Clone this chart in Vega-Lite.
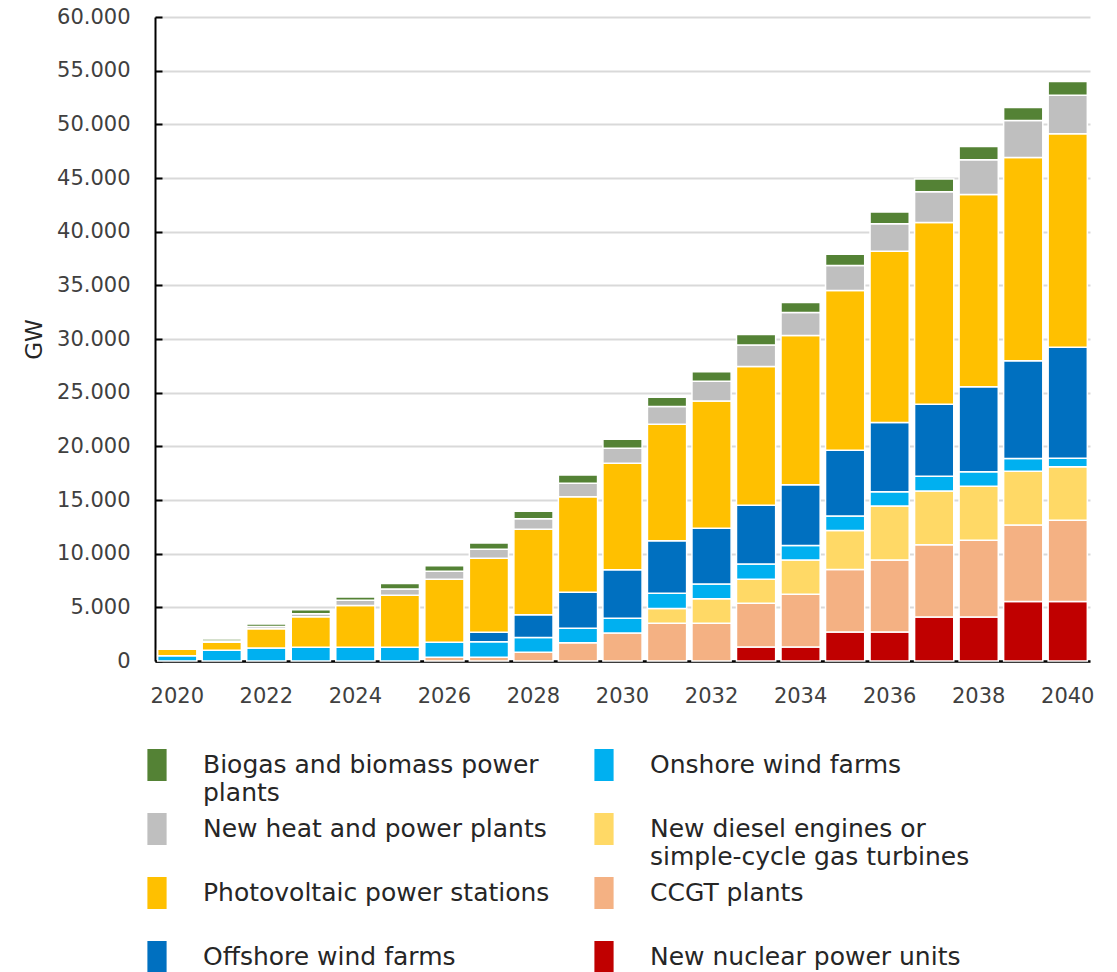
{
  "$schema": "https://vega.github.io/schema/vega-lite/v6.json",
  "autosize": {"type": "none"},
  "width": 935,
  "height": 644,
  "padding": {"left": 155, "top": 17, "right": 27, "bottom": 311},
  "background": "white",
  "config": {
    "view": {"stroke": null},
    "font": "DejaVu Sans",
    "style": {"guide-label": {"lineHeight": 28}}
  },
  "data": {
    "values": [
      {"year": 2020, "source": "Onshore wind farms", "value": 500},
      {"year": 2020, "source": "Photovoltaic power stations", "value": 600},
      {"year": 2021, "source": "Onshore wind farms", "value": 1000},
      {"year": 2021, "source": "Photovoltaic power stations", "value": 740},
      {"year": 2021, "source": "New heat and power plants", "value": 120},
      {"year": 2021, "source": "Biogas and biomass power plants", "value": 180},
      {"year": 2022, "source": "Onshore wind farms", "value": 1200},
      {"year": 2022, "source": "Photovoltaic power stations", "value": 1810},
      {"year": 2022, "source": "New heat and power plants", "value": 200},
      {"year": 2022, "source": "Biogas and biomass power plants", "value": 240},
      {"year": 2023, "source": "Onshore wind farms", "value": 1270},
      {"year": 2023, "source": "Photovoltaic power stations", "value": 2860},
      {"year": 2023, "source": "New heat and power plants", "value": 280},
      {"year": 2023, "source": "Biogas and biomass power plants", "value": 370},
      {"year": 2024, "source": "Onshore wind farms", "value": 1270},
      {"year": 2024, "source": "Photovoltaic power stations", "value": 3890},
      {"year": 2024, "source": "New heat and power plants", "value": 490},
      {"year": 2024, "source": "Biogas and biomass power plants", "value": 310},
      {"year": 2025, "source": "Onshore wind farms", "value": 1270},
      {"year": 2025, "source": "Photovoltaic power stations", "value": 4850},
      {"year": 2025, "source": "New heat and power plants", "value": 590},
      {"year": 2025, "source": "Biogas and biomass power plants", "value": 500},
      {"year": 2026, "source": "CCGT plants", "value": 340},
      {"year": 2026, "source": "Onshore wind farms", "value": 1400},
      {"year": 2026, "source": "Photovoltaic power stations", "value": 5870},
      {"year": 2026, "source": "New heat and power plants", "value": 750},
      {"year": 2026, "source": "Biogas and biomass power plants", "value": 520},
      {"year": 2027, "source": "CCGT plants", "value": 340},
      {"year": 2027, "source": "Onshore wind farms", "value": 1460},
      {"year": 2027, "source": "Offshore wind farms", "value": 870},
      {"year": 2027, "source": "Photovoltaic power stations", "value": 6900},
      {"year": 2027, "source": "New heat and power plants", "value": 830},
      {"year": 2027, "source": "Biogas and biomass power plants", "value": 600},
      {"year": 2028, "source": "CCGT plants", "value": 810},
      {"year": 2028, "source": "Onshore wind farms", "value": 1390},
      {"year": 2028, "source": "Offshore wind farms", "value": 2120},
      {"year": 2028, "source": "Photovoltaic power stations", "value": 7950},
      {"year": 2028, "source": "New heat and power plants", "value": 990},
      {"year": 2028, "source": "Biogas and biomass power plants", "value": 690},
      {"year": 2029, "source": "CCGT plants", "value": 1710},
      {"year": 2029, "source": "Onshore wind farms", "value": 1330},
      {"year": 2029, "source": "Offshore wind farms", "value": 3360},
      {"year": 2029, "source": "Photovoltaic power stations", "value": 8910},
      {"year": 2029, "source": "New heat and power plants", "value": 1240},
      {"year": 2029, "source": "Biogas and biomass power plants", "value": 780},
      {"year": 2030, "source": "CCGT plants", "value": 2610},
      {"year": 2030, "source": "Onshore wind farms", "value": 1370},
      {"year": 2030, "source": "Offshore wind farms", "value": 4530},
      {"year": 2030, "source": "Photovoltaic power stations", "value": 9910},
      {"year": 2030, "source": "New heat and power plants", "value": 1400},
      {"year": 2030, "source": "Biogas and biomass power plants", "value": 830},
      {"year": 2031, "source": "CCGT plants", "value": 3510},
      {"year": 2031, "source": "New diesel engines or simple-cycle gas turbines", "value": 1370},
      {"year": 2031, "source": "Onshore wind farms", "value": 1430},
      {"year": 2031, "source": "Offshore wind farms", "value": 4900},
      {"year": 2031, "source": "Photovoltaic power stations", "value": 10840},
      {"year": 2031, "source": "New heat and power plants", "value": 1650},
      {"year": 2031, "source": "Biogas and biomass power plants", "value": 870},
      {"year": 2032, "source": "CCGT plants", "value": 3510},
      {"year": 2032, "source": "New diesel engines or simple-cycle gas turbines", "value": 2300},
      {"year": 2032, "source": "Onshore wind farms", "value": 1360},
      {"year": 2032, "source": "Offshore wind farms", "value": 5190},
      {"year": 2032, "source": "Photovoltaic power stations", "value": 11870},
      {"year": 2032, "source": "New heat and power plants", "value": 1830},
      {"year": 2032, "source": "Biogas and biomass power plants", "value": 900},
      {"year": 2033, "source": "New nuclear power units", "value": 1300},
      {"year": 2033, "source": "CCGT plants", "value": 4070},
      {"year": 2033, "source": "New diesel engines or simple-cycle gas turbines", "value": 2250},
      {"year": 2033, "source": "Onshore wind farms", "value": 1410},
      {"year": 2033, "source": "Offshore wind farms", "value": 5470},
      {"year": 2033, "source": "Photovoltaic power stations", "value": 12930},
      {"year": 2033, "source": "New heat and power plants", "value": 2020},
      {"year": 2033, "source": "Biogas and biomass power plants", "value": 970},
      {"year": 2034, "source": "New nuclear power units", "value": 1300},
      {"year": 2034, "source": "CCGT plants", "value": 4910},
      {"year": 2034, "source": "New diesel engines or simple-cycle gas turbines", "value": 3190},
      {"year": 2034, "source": "Onshore wind farms", "value": 1360},
      {"year": 2034, "source": "Offshore wind farms", "value": 5650},
      {"year": 2034, "source": "Photovoltaic power stations", "value": 13920},
      {"year": 2034, "source": "New heat and power plants", "value": 2140},
      {"year": 2034, "source": "Biogas and biomass power plants", "value": 940},
      {"year": 2035, "source": "New nuclear power units", "value": 2700},
      {"year": 2035, "source": "CCGT plants", "value": 5820},
      {"year": 2035, "source": "New diesel engines or simple-cycle gas turbines", "value": 3650},
      {"year": 2035, "source": "Onshore wind farms", "value": 1330},
      {"year": 2035, "source": "Offshore wind farms", "value": 6130},
      {"year": 2035, "source": "Photovoltaic power stations", "value": 14900},
      {"year": 2035, "source": "New heat and power plants", "value": 2320},
      {"year": 2035, "source": "Biogas and biomass power plants", "value": 1050},
      {"year": 2036, "source": "New nuclear power units", "value": 2700},
      {"year": 2036, "source": "CCGT plants", "value": 6700},
      {"year": 2036, "source": "New diesel engines or simple-cycle gas turbines", "value": 5040},
      {"year": 2036, "source": "Onshore wind farms", "value": 1340},
      {"year": 2036, "source": "Offshore wind farms", "value": 6450},
      {"year": 2036, "source": "Photovoltaic power stations", "value": 15950},
      {"year": 2036, "source": "New heat and power plants", "value": 2560},
      {"year": 2036, "source": "Biogas and biomass power plants", "value": 1090},
      {"year": 2037, "source": "New nuclear power units", "value": 4100},
      {"year": 2037, "source": "CCGT plants", "value": 6730},
      {"year": 2037, "source": "New diesel engines or simple-cycle gas turbines", "value": 5020},
      {"year": 2037, "source": "Onshore wind farms", "value": 1360},
      {"year": 2037, "source": "Offshore wind farms", "value": 6700},
      {"year": 2037, "source": "Photovoltaic power stations", "value": 16940},
      {"year": 2037, "source": "New heat and power plants", "value": 2870},
      {"year": 2037, "source": "Biogas and biomass power plants", "value": 1190},
      {"year": 2038, "source": "New nuclear power units", "value": 4100},
      {"year": 2038, "source": "CCGT plants", "value": 7150},
      {"year": 2038, "source": "New diesel engines or simple-cycle gas turbines", "value": 5020},
      {"year": 2038, "source": "Onshore wind farms", "value": 1370},
      {"year": 2038, "source": "Offshore wind farms", "value": 7920},
      {"year": 2038, "source": "Photovoltaic power stations", "value": 17910},
      {"year": 2038, "source": "New heat and power plants", "value": 3230},
      {"year": 2038, "source": "Biogas and biomass power plants", "value": 1230},
      {"year": 2039, "source": "New nuclear power units", "value": 5550},
      {"year": 2039, "source": "CCGT plants", "value": 7110},
      {"year": 2039, "source": "New diesel engines or simple-cycle gas turbines", "value": 5010},
      {"year": 2039, "source": "Onshore wind farms", "value": 1190},
      {"year": 2039, "source": "Offshore wind farms", "value": 9120},
      {"year": 2039, "source": "Photovoltaic power stations", "value": 18930},
      {"year": 2039, "source": "New heat and power plants", "value": 3440},
      {"year": 2039, "source": "Biogas and biomass power plants", "value": 1220},
      {"year": 2040, "source": "New nuclear power units", "value": 5550},
      {"year": 2040, "source": "CCGT plants", "value": 7560},
      {"year": 2040, "source": "New diesel engines or simple-cycle gas turbines", "value": 4980},
      {"year": 2040, "source": "Onshore wind farms", "value": 810},
      {"year": 2040, "source": "Offshore wind farms", "value": 10340},
      {"year": 2040, "source": "Photovoltaic power stations", "value": 19880},
      {"year": 2040, "source": "New heat and power plants", "value": 3580},
      {"year": 2040, "source": "Biogas and biomass power plants", "value": 1290}
    ]
  },
  "transform": [
    {"calculate": "indexof(['New nuclear power units', 'CCGT plants', 'New diesel engines or simple-cycle gas turbines', 'Onshore wind farms', 'Offshore wind farms', 'Photovoltaic power stations', 'New heat and power plants', 'Biogas and biomass power plants'], datum.source)", "as": "stack_rank"}
  ],
  "mark": {"type": "bar", "stroke": "white", "strokeWidth": 1.5},
  "encoding": {
    "x": {
      "field": "year",
      "type": "ordinal",
      "scale": {"paddingInner": 0.12, "paddingOuter": 0.06},
      "axis": {
        "title": null,
        "labelAngle": 0,
        "ticks": false,
        "domainColor": "#000000",
        "domainWidth": 2.5,
        "labelFontSize": 21,
        "labelColor": "#404040",
        "labelPadding": 24,
        "labelExpr": "datum.value % 2 == 0 ? datum.label : ''"
      }
    },
    "y": {
      "field": "value",
      "type": "quantitative",
      "stack": "zero",
      "scale": {"domain": [0, 60000], "nice": false},
      "axis": {
        "title": "GW",
        "titleFontSize": 23,
        "titleFontWeight": "normal",
        "titleColor": "#262626",
        "titlePadding": 10,
        "values": [0, 5000, 10000, 15000, 20000, 25000, 30000, 35000, 40000, 45000, 50000, 55000, 60000],
        "labelExpr": "replace(format(datum.value, ','), ',', '.')",
        "labelFontSize": 21,
        "labelColor": "#404040",
        "labelPadding": 32,
        "tickSize": -7,
        "tickColor": "#000000",
        "tickWidth": 2,
        "domainColor": "#000000",
        "domainWidth": 2,
        "gridColor": "#D9D9D9",
        "gridWidth": 2
      }
    },
    "order": {"field": "stack_rank", "type": "quantitative", "sort": "ascending"},
    "color": {
      "field": "source",
      "type": "nominal",
      "sort": [
        "Biogas and biomass power plants",
        "New heat and power plants",
        "Photovoltaic power stations",
        "Offshore wind farms",
        "Onshore wind farms",
        "New diesel engines or simple-cycle gas turbines",
        "CCGT plants",
        "New nuclear power units"
      ],
      "scale": {
        "range": ["#548235", "#BFBFBF", "#FFC000", "#0070C0", "#00B0F0", "#FFD966", "#F4B183", "#C00000"]
      },
      "legend": {
        "title": null,
        "orient": "none",
        "legendX": -14,
        "legendY": 732,
        "columns": 2,
        "gridAlign": "all",
        "columnPadding": 38,
        "rowPadding": 7,
        "padding": 0,
        "symbolType": "M-0.6,-1L0.6,-1L0.6,1L-0.6,1Z",
        "symbolSize": 1024,
        "symbolStrokeWidth": 0,
        "symbolOpacity": 1,
        "labelFontSize": 25,
        "labelColor": "#262626",
        "labelLimit": 600,
        "labelOffset": 30,
        "labelBaseline": "middle",
        "labelExpr": "datum.label == 'Biogas and biomass power plants' ? ['Biogas and biomass power', 'plants'] : datum.label == 'New diesel engines or simple-cycle gas turbines' ? ['New diesel engines or', 'simple-cycle gas turbines'] : [datum.label, '']"
      }
    }
  }
}
